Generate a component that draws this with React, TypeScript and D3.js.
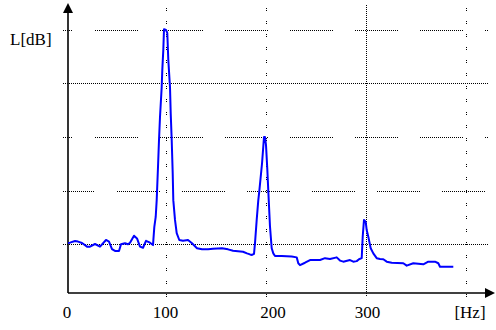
import React from "react";
import * as d3 from "d3";

// ---- data ----
const freqHz: number[] = [
  2, 4, 9, 12, 16, 21, 24, 29, 34, 40, 43, 46, 49, 53, 55, 59, 62, 64, 68, 71, 74, 77, 80, 84, 87,
  88.3, 89.7, 90.7, 92, 93, 94, 95.7, 96.3, 97.3, 98, 100, 101.3, 102.3, 104, 104.7, 105.7, 106.7, 107.3,
  109, 110.7, 113.3, 117, 122, 126, 131, 136, 142, 147, 156, 162, 167, 177, 181, 184, 186, 188,
  189, 190.7, 192.3, 193.3, 196, 198, 199, 200, 201.3, 202.3, 204, 205.7, 207.3, 209, 215.7, 225.7,
  230.7, 232.3, 234, 239, 244, 254, 259, 264, 270.7, 274, 277.3, 284, 287.3, 290.7, 293, 295.7,
  296.7, 298, 299.7, 300.7, 302.3, 304.7, 307.3, 310.7, 314, 317.3, 320.7, 325.7, 337.3, 340.7,
  347.3, 357.3, 362.3, 369, 372.3, 374, 387.3,
];
const levelDb: number[] = [
  20.4, 20.5, 21.1, 20.9, 20.4, 19.0, 19.0, 20.0, 19.0, 21.5, 20.9, 18.1, 17.4, 17.4, 19.9, 20.3, 19.9, 20.5, 23.1, 22.1, 19.0, 18.6, 21.2, 20.5, 19.6,
  26.3, 30.1, 36.4, 48.8, 58.9, 67.5, 78.7, 85.0, 92.5, 100.3, 100.0, 98.9, 88.8, 78.7, 69.0, 58.9, 46.5, 36.4,
  29.0, 24.1, 21.5, 21.2, 21.5, 20.3, 18.4, 18.0, 18.0, 18.2, 18.4, 18.0, 17.5, 17.1, 16.5, 16.1, 15.9, 16.3,
  20.3, 29.0, 36.4, 39.8, 50.0, 60.0, 60.0, 57.0, 48.0, 39.8, 26.5, 18.4, 16.5, 15.5, 15.5, 15.3,
  15.0, 12.8, 12.1, 13.0, 14.0, 14.0, 14.7, 14.4, 15.0, 13.8, 13.4, 14.0, 13.4, 13.6, 14.3, 14.7,
  22.7, 29.0, 28.3, 25.2, 22.7, 18.4, 16.5, 14.7, 14.4, 14.3, 13.4, 13.0, 12.8, 11.9,
  12.8, 12.4, 13.4, 13.4, 12.8, 11.5, 11.5,
];
const xTicks: number[] = [0, 100, 200, 300];
const xTickLabels: string[] = ["0", "100", "200", "300"];
const xGrid: number[] = [100, 200, 300, 400];
const yGrid: number[] = [20, 40, 60, 80, 100];
const xUnit = "[Hz]";
const yUnit = "L[dB]";

// ---- layout ----
const W = 496;
const H = 330;
const axisX = 68;
const axisY = 293;
const x = d3.scaleLinear().domain([0, 400]).range([66, 466]);
const y = d3.scaleLinear().domain([0, 100]).range([297.5, 30]);
const gridLeft = 63;
const gridRight = 489;

// dash layout of horizontal grid rows (index into yGrid): null = continuous
const rowDashStart: (number | null)[] = [null, 52, 30, null, 30];
const tickDx: number[] = [1, -0.5, 7, 1.5];

export default function App() {
  const pts: [number, number][] = freqHz.map((f, i) => [x(f), y(levelDb[i])]);
  const line = d3.line<[number, number]>().x((d) => d[0]).y((d) => d[1]);

  const hRows: React.ReactNode[] = [];
  yGrid.forEach((v, i) => {
    const yy = Math.round(y(v)) + 0.5;
    const start = rowDashStart[i];
    if (start === null) {
      hRows.push(
        <line key={`h${i}`} x1={gridLeft} x2={gridRight} y1={yy} y2={yy}
          stroke="#000" strokeWidth={1} strokeDasharray="1 1" />
      );
    } else {
      for (let s = start - 65 * 3; s < gridRight; s += 65) {
        const a = Math.max(s, gridLeft);
        const b = Math.min(s + 43, gridRight);
        if (b > a) {
          hRows.push(
            <line key={`h${i}_${s}`} x1={a} x2={b} y1={yy} y2={yy}
              stroke="#000" strokeWidth={1} strokeDasharray="1 1" />
          );
        }
      }
    }
  });

  const vCols = xGrid.map((v, i) => {
    const xx = Math.round(x(v)) + 0.5;
    const dense = v === 300;
    return (
      <line key={`v${i}`} x1={xx} x2={xx} y1={dense ? 5 : 8} y2={297}
        stroke="#000" strokeWidth={1} strokeDasharray={dense ? "1 1" : "1 1 1 10"} />
    );
  });

  return (
    <svg width={W} height={H} style={{ position: "absolute", left: 0, top: 0, background: "#fff" }}>
      <rect x={0} y={0} width={W} height={H} fill="#fff" />
      {hRows}
      {vCols}
      {/* axes */}
      <line x1={axisX} x2={axisX} y1={axisY} y2={12} stroke="#000" strokeWidth={1.6} />
      <line x1={axisX} x2={486} y1={axisY} y2={axisY} stroke="#000" strokeWidth={1.6} />
      <path d={`M${axisX},3 L${axisX - 5},13 L${axisX + 5},13 Z`} fill="#000" />
      <path d={`M495,${axisY} L485,${axisY - 5} L485,${axisY + 5} Z`} fill="#000" />
      {/* curve */}
      <path d={line(pts) || ""} fill="none" stroke="#0000ff" strokeWidth={2} strokeLinejoin="round" />
      {/* labels */}
      {xTicks.map((t, i) => (
        <text key={`t${i}`} x={x(t) + tickDx[i]} y={318} textAnchor="middle"
          fontFamily="Liberation Serif" fontSize={17} fill="#000">
          {xTickLabels[i]}
        </text>
      ))}
      <text x={470} y={318} textAnchor="middle" fontFamily="Liberation Serif" fontSize={17} fill="#000">{xUnit}</text>
      <text x={10} y={45} fontFamily="Liberation Serif" fontSize={17} fill="#000">{yUnit}</text>
    </svg>
  );
}
